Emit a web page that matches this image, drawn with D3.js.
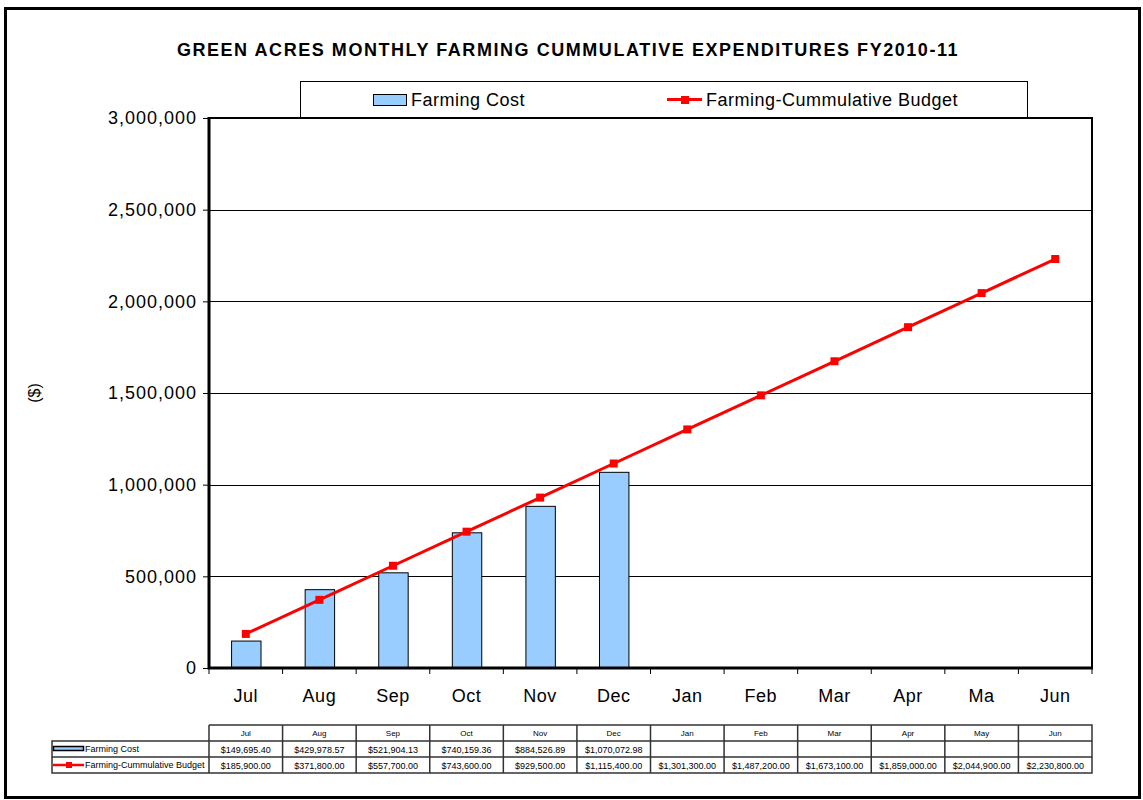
<!DOCTYPE html>
<html>
<head>
<meta charset="utf-8">
<script src="https://cdn.jsdelivr.net/npm/d3@7"></script>
<style>
  body { margin: 0; background: #fff; }
  svg { font-family: Arial, "Liberation Sans", sans-serif; }
</style>
</head>
<body>
<div id="chart"></div>
<script>
// chart data
const months = ['Jul', 'Aug', 'Sep', 'Oct', 'Nov', 'Dec', 'Jan', 'Feb', 'Mar', 'Apr', 'May', 'Jun'];
const axisLabels = ['Jul', 'Aug', 'Sep', 'Oct', 'Nov', 'Dec', 'Jan', 'Feb', 'Mar', 'Apr', 'Ma', 'Jun'];
const farmingCost = [149695.40, 429978.57, 521904.13, 740159.36, 884526.89, 1070072.98, null, null, null, null, null, null];
const cumulativeBudget = [185900, 371800, 557700, 743600, 929500, 1115400, 1301300, 1487200, 1673100, 1859000, 2044900, 2230800];
const yTicks = [0, 500000, 1000000, 1500000, 2000000, 2500000, 3000000];

const width = 1143;
const height = 800;
const plot = { left: 209, right: 1092, top: 118, bottom: 668 };

const svg = d3.select('#chart')
  .append('svg')
    .attr('width', width)
    .attr('height', height);

// outer frame
svg.append('rect')
  .attr('x', 5.5)
  .attr('y', 8.5)
  .attr('width', 1134)
  .attr('height', 789)
  .attr('fill', '#fff')
  .attr('stroke', '#000')
  .attr('stroke-width', 3);

svg.append('text')
  .attr('x', 568)
  .attr('y', 56)
  .attr('text-anchor', 'middle')
  .attr('font-size', 18)
  .attr('font-weight', 'bold')
  .attr('letter-spacing', 1.55)
  .text('GREEN ACRES MONTHLY FARMING CUMMULATIVE EXPENDITURES FY2010-11');

const x = d3.scaleBand()
  .domain(months)
  .range([plot.left, plot.right])
  .padding(0);

const y = d3.scaleLinear()
  .domain([0, 3000000])
  .range([plot.bottom, plot.top]);

// gridlines
svg.append('g')
  .selectAll('line')
  .data(yTicks.filter(d => d > 0 && d < 3000000))
  .join('line')
    .attr('x1', plot.left)
    .attr('x2', plot.right)
    .attr('y1', d => Math.round(y(d)) + 0.5)
    .attr('y2', d => Math.round(y(d)) + 0.5)
    .attr('stroke', '#000')
    .attr('stroke-width', 1);

// plot border (top / right)
svg.append('path')
  .attr('d', `M${plot.left},${plot.top} H${plot.right} V${plot.bottom}`)
  .attr('fill', 'none')
  .attr('stroke', '#000')
  .attr('stroke-width', 2);

// y axis
const yAxis = svg.append('g')
  .attr('transform', `translate(${plot.left},0)`)
  .call(d3.axisLeft(y).tickValues(yTicks).tickSize(6).tickPadding(6).tickFormat(d3.format(',')));
yAxis.select('.domain').remove();
yAxis.selectAll('.tick line').attr('stroke', '#000');
yAxis.selectAll('.tick text')
  .attr('font-size', 18)
  .attr('letter-spacing', 1)
  .attr('font-family', 'Arial, "Liberation Sans", sans-serif')
  .attr('fill', '#000');

// bars
svg.append('g')
  .selectAll('rect')
  .data(months.map((m, i) => ({ m, v: farmingCost[i] })).filter(d => d.v != null))
  .join('rect')
    .attr('x', d => x(d.m) + x.bandwidth() * 0.3 + 0.5)
    .attr('y', d => y(d.v) + 0.5)
    .attr('width', x.bandwidth() * 0.4)
    .attr('height', d => plot.bottom - y(d.v))
    .attr('fill', '#99ccff')
    .attr('stroke', '#000')
    .attr('stroke-width', 1);

// axis lines (left / bottom)
svg.append('path')
  .attr('d', `M${plot.left},${plot.top - 1} V${plot.bottom} H${plot.right + 1}`)
  .attr('fill', 'none')
  .attr('stroke', '#000')
  .attr('stroke-width', 3);

// x ticks at band edges
svg.append('g')
  .selectAll('line')
  .data(months.concat(['end']))
  .join('line')
    .attr('x1', (d, i) => plot.left + i * x.bandwidth())
    .attr('x2', (d, i) => plot.left + i * x.bandwidth())
    .attr('y1', plot.bottom)
    .attr('y2', plot.bottom + 6)
    .attr('stroke', '#000');

svg.append('g')
  .selectAll('text')
  .data(months)
  .join('text')
    .attr('x', d => x(d) + x.bandwidth() / 2)
    .attr('y', 702)
    .attr('text-anchor', 'middle')
    .attr('font-size', 18)
    .attr('letter-spacing', 0.5)
    .text((d, i) => axisLabels[i]);

// budget line
const line = d3.line()
  .x((d, i) => x(months[i]) + x.bandwidth() / 2)
  .y(d => y(d));

svg.append('path')
  .datum(cumulativeBudget)
  .attr('d', line)
  .attr('fill', 'none')
  .attr('stroke', '#ff0000')
  .attr('stroke-width', 3);

svg.append('g')
  .selectAll('rect')
  .data(cumulativeBudget)
  .join('rect')
    .attr('x', (d, i) => x(months[i]) + x.bandwidth() / 2 - 4)
    .attr('y', d => y(d) - 4)
    .attr('width', 8)
    .attr('height', 8)
    .attr('fill', '#ff0000');

// y axis title
svg.append('text')
  .attr('transform', 'translate(40,393) rotate(-90)')
  .attr('text-anchor', 'middle')
  .attr('font-size', 16)
  .text('($)');

// legend
const legend = svg.append('g');
legend.append('rect')
  .attr('x', 300.5)
  .attr('y', 81.5)
  .attr('width', 727)
  .attr('height', 36)
  .attr('fill', '#fff')
  .attr('stroke', '#000');
legend.append('rect')
  .attr('x', 373.5)
  .attr('y', 94.5)
  .attr('width', 33)
  .attr('height', 11)
  .attr('fill', '#99ccff')
  .attr('stroke', '#000');
legend.append('text')
  .attr('x', 411)
  .attr('y', 106)
  .attr('font-size', 18)
  .attr('letter-spacing', 0.5)
  .text('Farming Cost');
legend.append('line')
  .attr('x1', 667)
  .attr('x2', 702)
  .attr('y1', 99.5)
  .attr('y2', 99.5)
  .attr('stroke', '#ff0000')
  .attr('stroke-width', 3);
legend.append('rect')
  .attr('x', 681)
  .attr('y', 96)
  .attr('width', 8)
  .attr('height', 8)
  .attr('fill', '#ff0000');
legend.append('text')
  .attr('x', 706)
  .attr('y', 106)
  .attr('font-size', 18)
  .attr('letter-spacing', 0.5)
  .text('Farming-Cummulative Budget');

// data table
const money = d3.format('$,.2f');
const rows = [725, 741, 757, 773];
const table = svg.append('g').attr('font-size', 9);
const colEdges = months.map(m => x(m)).concat([plot.right]);

table.append('path')
  .attr('d', [
    `M${plot.left},${rows[0]} H${plot.right} V${rows[3]} H52 V${rows[1]} H${plot.right}`,
    `M52,${rows[2]} H${plot.right}`,
    ...colEdges.map(cx => `M${cx},${rows[0]} V${rows[3]}`)
  ].join(' '))
  .attr('fill', 'none')
  .attr('stroke', '#333')
  .attr('stroke-width', 1.5);

table.selectAll('.hdr')
  .data(months)
  .join('text')
    .attr('class', 'hdr')
    .attr('x', d => x(d) + x.bandwidth() / 2)
    .attr('y', rows[0] + 11)
    .attr('text-anchor', 'middle')
    .attr('font-size', 8)
    .text(d => d);

table.selectAll('.cost')
  .data(months.map((m, i) => ({ m, v: farmingCost[i] })).filter(d => d.v != null))
  .join('text')
    .attr('class', 'cost')
    .attr('x', d => x(d.m) + x.bandwidth() / 2)
    .attr('y', rows[1] + 12)
    .attr('text-anchor', 'middle')
    .text(d => money(d.v));

table.selectAll('.budget')
  .data(cumulativeBudget)
  .join('text')
    .attr('class', 'budget')
    .attr('x', (d, i) => x(months[i]) + x.bandwidth() / 2)
    .attr('y', rows[2] + 12)
    .attr('text-anchor', 'middle')
    .text(d => money(d));

// table legend keys
table.append('rect')
  .attr('x', 53.5)
  .attr('y', 746.5)
  .attr('width', 30)
  .attr('height', 4)
  .attr('fill', '#99ccff')
  .attr('stroke', '#000')
  .attr('stroke-width', 1.5);
table.append('text')
  .attr('x', 85)
  .attr('y', 752)
  .text('Farming Cost');
table.append('line')
  .attr('x1', 53)
  .attr('x2', 84)
  .attr('y1', 765)
  .attr('y2', 765)
  .attr('stroke', '#ff0000')
  .attr('stroke-width', 2.5);
table.append('rect')
  .attr('x', 66)
  .attr('y', 762)
  .attr('width', 6)
  .attr('height', 6)
  .attr('fill', '#ff0000');
table.append('text')
  .attr('x', 85)
  .attr('y', 768)
  .text('Farming-Cummulative Budget');
</script>
</body>
</html>
